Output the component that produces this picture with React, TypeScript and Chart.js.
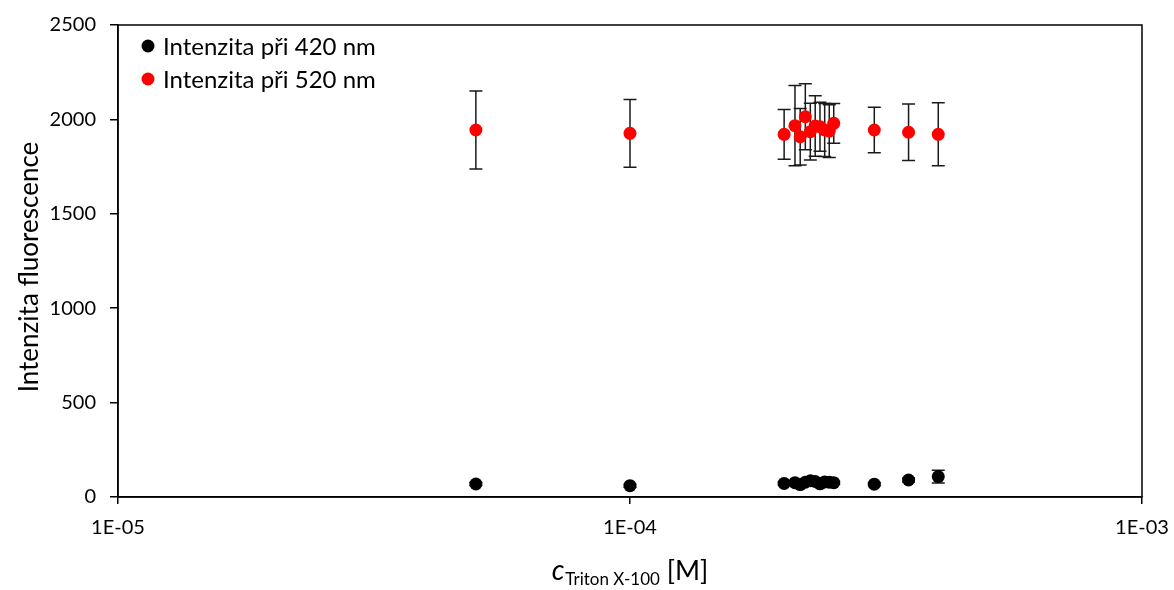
import React, { useEffect, useRef } from "react";
import { Chart, registerables } from "chart.js";

Chart.register(...registerables);

const concentrations = [5e-5, 1e-4, 2.0e-4, 2.1e-4, 2.15e-4, 2.2e-4, 2.25e-4, 2.3e-4, 2.35e-4, 2.4e-4, 2.45e-4, 2.5e-4, 3.0e-4, 3.5e-4, 4.0e-4];
const intensity420 = [69, 60, 72, 76, 66, 78, 86, 82, 70, 80, 78, 76, 68, 90, 108];
const error420 = [8, 8, 8, 8, 8, 8, 8, 8, 8, 8, 8, 8, 8, 10, 34];
const intensity520 = [1944, 1926, 1921, 1967, 1908, 2014, 1935, 1965, 1961, 1944, 1938, 1979, 1944, 1932, 1921];
const error520 = [207, 180, 132, 212, 150, 175, 150, 160, 130, 140, 140, 105, 120, 150, 167];
const xTickValues = [1e-5, 1e-4, 1e-3];
const seriesLabels = ["Intenzita při 420 nm", "Intenzita při 520 nm"];
const seriesColors = ["#000000", "#ff0000"];
const yTitle = "Intenzita fluorescence";

const FONT = "Lato, 'Open Sans', sans-serif";

function fmtExp(v: number): string {
  const e = Math.round(Math.log10(v));
  const sign = e < 0 ? "-" : "+";
  const a = Math.abs(e);
  return "1E" + sign + (a < 10 ? "0" + a : String(a));
}

export default function App() {
  const ref = useRef<HTMLCanvasElement | null>(null);
  useEffect(() => {
    document.body.style.margin = "0";
    const canvas = ref.current;
    if (!canvas) return;
    const errors = [error420, error520];

    const errorPlugin = {
      id: "errorBars",
      beforeDatasetsDraw(chart: any) {
        const ctx = chart.ctx;
        const xs = chart.scales.x;
        const ys = chart.scales.y;
        ctx.save();
        ctx.strokeStyle = "#1a1a1a";
        ctx.lineWidth = 1.5;
        chart.data.datasets.forEach((ds: any, di: number) => {
          ds.data.forEach((p: any, i: number) => {
            const e = errors[di][i];
            const x = xs.getPixelForValue(p.x);
            const yt = ys.getPixelForValue(p.y + e);
            const yb = ys.getPixelForValue(p.y - e);
            ctx.beginPath();
            ctx.moveTo(x, yt);
            ctx.lineTo(x, yb);
            ctx.moveTo(x - 6.5, yt);
            ctx.lineTo(x + 6.5, yt);
            ctx.moveTo(x - 6.5, yb);
            ctx.lineTo(x + 6.5, yb);
            ctx.stroke();
          });
        });
        ctx.restore();
      },
    };

    const decorPlugin = {
      id: "decor",
      afterDraw(chart: any) {
        const ctx = chart.ctx;
        const a = chart.chartArea;
        ctx.save();
        ctx.strokeStyle = "#000";
        ctx.lineWidth = 1.5;
        ctx.strokeRect(a.left, a.top, a.right - a.left, a.bottom - a.top);

        // legend
        ctx.textBaseline = "middle";
        ctx.textAlign = "left";
        ctx.font = `24px ${FONT}`;
        seriesLabels.forEach((lab, i) => {
          const y = 46 + i * 33;
          ctx.fillStyle = seriesColors[i];
          ctx.beginPath();
          ctx.arc(148, y, 6.5, 0, Math.PI * 2);
          ctx.fill();
          ctx.fillStyle = "#000";
          ctx.fillText(lab, 163, y + 1);
        });

        // y title
        ctx.save();
        ctx.translate(30, (a.top + a.bottom) / 2 + 6);
        ctx.rotate(-Math.PI / 2);
        ctx.textAlign = "center";
        ctx.textBaseline = "middle";
        ctx.font = `26px ${FONT}`;
        ctx.fillStyle = "#000";
        ctx.fillText(yTitle, 0, 0);
        ctx.restore();

        // x title: c_{Triton X-100} [M]
        ctx.fillStyle = "#000";
        ctx.textBaseline = "alphabetic";
        const p1 = "c";
        const p2 = "Triton X-100";
        const p3 = " [M]";
        const f1 = `italic 28px ${FONT}`;
        const f2 = `17px ${FONT}`;
        const f3 = `27px ${FONT}`;
        ctx.font = f1;
        const w1 = ctx.measureText(p1).width;
        ctx.font = f2;
        const w2 = ctx.measureText(p2).width;
        ctx.font = f3;
        const w3 = ctx.measureText(p3).width;
        const total = w1 + w2 + w3 + 1;
        let x = (a.left + a.right) / 2 - total / 2;
        const base = 580;
        ctx.font = f1;
        ctx.fillText(p1, x, base);
        x += w1 + 1;
        ctx.font = f2;
        ctx.fillText(p2, x, base + 5);
        x += w2;
        ctx.font = f3;
        ctx.fillText(p3, x, base);
        ctx.restore();
      },
    };

    const chart = new Chart(canvas, {
      type: "scatter",
      data: {
        datasets: [
          {
            label: seriesLabels[0],
            data: concentrations.map((c, i) => ({ x: c, y: intensity420[i] })),
            backgroundColor: seriesColors[0],
            borderWidth: 0,
            pointRadius: 6.5,
          },
          {
            label: seriesLabels[1],
            data: concentrations.map((c, i) => ({ x: c, y: intensity520[i] })),
            backgroundColor: seriesColors[1],
            borderWidth: 0,
            pointRadius: 6.5,
          },
        ],
      },
      options: {
        animation: false,
        responsive: false,
        maintainAspectRatio: false,
        layout: { padding: { top: 25, right: 32, left: 0, bottom: 0 } },
        plugins: {
          legend: { display: false },
          tooltip: { enabled: false },
          title: { display: false },
        },
        scales: {
          x: {
            type: "logarithmic",
            min: 1e-5,
            max: 1e-3,
            afterBuildTicks: (s: any) => {
              s.ticks = xTickValues.map((v) => ({ value: v }));
            },
            afterFit: (s: any) => {
              s.height = 93;
              s.paddingLeft = 0;
              s.paddingRight = 0;
            },
            ticks: {
              callback: (v: any) => fmtExp(Number(v)),
              font: { size: 20, family: FONT },
              color: "#000",
              padding: 12,
              autoSkip: false,
              maxRotation: 0,
            },
            grid: {
              drawOnChartArea: false,
              drawTicks: true,
              tickLength: 7,
              color: "#000",
              lineWidth: 1.5,
            },
            border: { color: "#000", width: 1.5 },
          },
          y: {
            min: 0,
            max: 2500,
            afterFit: (s: any) => {
              s.width = 118;
              s.paddingTop = 0;
              s.paddingBottom = 0;
            },
            ticks: {
              stepSize: 500,
              callback: (v: any) => String(v),
              font: { size: 20, family: FONT },
              color: "#000",
              padding: 14,
            },
            grid: {
              drawOnChartArea: false,
              drawTicks: true,
              tickLength: 8,
              color: "#000",
              lineWidth: 1.5,
            },
            border: { color: "#000", width: 1.5 },
          },
        },
      },
      plugins: [errorPlugin, decorPlugin],
    } as any);
    return () => chart.destroy();
  }, []);
  return <canvas ref={ref} width={1174} height={590} style={{ display: "block" }} />;
}
